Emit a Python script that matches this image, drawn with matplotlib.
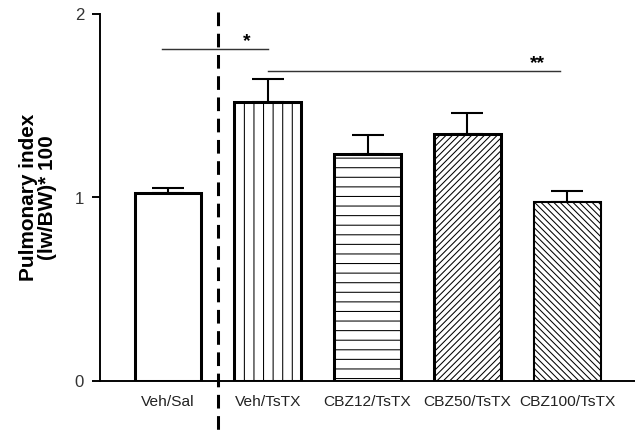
import matplotlib
matplotlib.use("Agg")
import matplotlib.pyplot as plt

groups = ["Veh/Sal", "Veh/TsTX", "CBZ12/TsTX", "CBZ50/TsTX", "CBZ100/TsTX"]
means = [1.023, 1.519, 1.237, 1.346, 0.975]
sem = [0.030, 0.128, 0.102, 0.113, 0.059]

# significance brackets: (x start, x end, height, label)
sig_single = (-0.06, 1.0, 1.809, "*")
sig_double = (1.0, 3.93, 1.689, "**")

plt.rcParams['font.family'] = ['Liberation Sans', 'DejaVu Sans']
plt.rcParams['hatch.linewidth'] = 0.65

DPI = 115
fig = plt.figure(figsize=(635.01 / DPI, 433.01 / DPI), dpi=DPI)
ax = fig.add_axes([100 / 635, 1 - 381 / 433, 535 / 635, 367 / 433])

x = list(range(len(groups)))
hatches = ['', '||', '--', '//////', '\\\\\\\\\\\\']
edge_w = [1.9, 1.9, 1.9, 1.9, 1.3]
for i in x:
    ax.bar(x[i], means[i], width=0.67, color='white', edgecolor='black',
           linewidth=edge_w[i], hatch=hatches[i], zorder=2)

ax.errorbar(x, means, yerr=[[0] * len(sem), sem], fmt='none', ecolor='black',
            elinewidth=1.3, capsize=10, capthick=1.3, zorder=1)

# vertical dashed separator
ax.plot([0.5, 0.5], [2.01, -0.35], color='black', linestyle=(0, (4.5, 2.5)),
        linewidth=1.9, clip_on=False, zorder=3)

for x0, x1, h, lab in [sig_single, sig_double]:
    ax.plot([x0, x1], [h, h], color='#333333', linewidth=0.9, zorder=3)
ax.text(0.79, 1.85, sig_single[3], ha='center', va='center', fontsize=12, fontweight='bold')
ax.text(3.70, 1.73, sig_double[3], ha='center', va='center', fontsize=12, fontweight='bold')

ax.set_xlim(-0.682, 4.68)
ax.set_ylim(0, 2)
ax.set_yticks([0, 1, 2])
ax.set_xticks(x)
ax.set_xticklabels(groups, fontsize=9.7, color='#222222')
ax.tick_params(axis='x', length=0, pad=9)
ax.tick_params(axis='y', length=5, width=1.2, labelsize=10.5, pad=5,
               labelcolor='#333333')

for s in ['top', 'right']:
    ax.spines[s].set_visible(False)
ax.spines['left'].set_linewidth(1.2)
ax.spines['bottom'].set_linewidth(1.2)

ax.set_ylabel("Pulmonary index\n(lw/BW)* 100", fontsize=13, fontweight='bold',
              linespacing=1.0)
ax.yaxis.set_label_coords(-0.08, 0.5)

fig.savefig("out.png", dpi=DPI)
